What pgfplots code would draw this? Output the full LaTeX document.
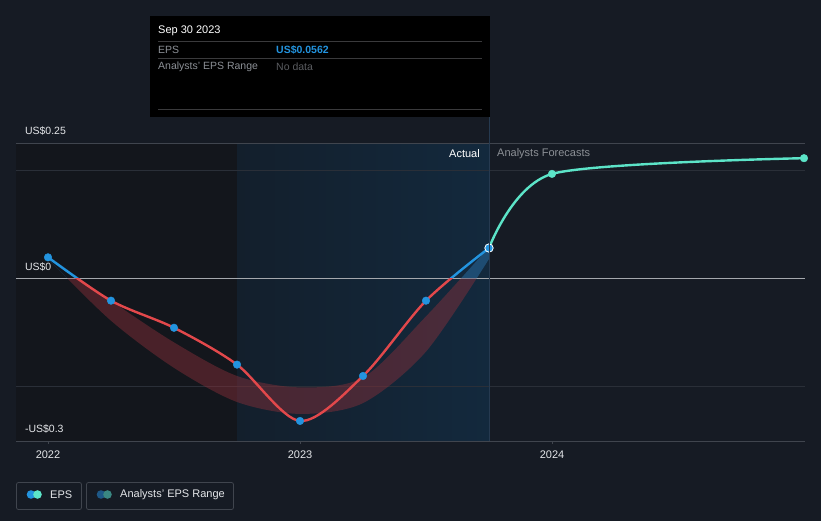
\documentclass[border=0pt]{standalone}
\usepackage{pgfplots}
\pgfplotsset{compat=1.18}
\usepgfplotslibrary{fillbetween}
\usepackage{fontspec}
\setmainfont{Liberation Sans}

\definecolor{bg}{RGB}{22,27,36}
\definecolor{pastbg}{RGB}{19,22,28}
\definecolor{actL}{RGB}{19,31,44}
\definecolor{actR}{RGB}{19,41,61}
\definecolor{gridc}{RGB}{42,47,56}
\definecolor{topgrid}{RGB}{64,69,78}
\definecolor{zeroc}{RGB}{165,168,173}
\definecolor{epsblue}{RGB}{35,148,223}
\definecolor{epsred}{RGB}{226,72,75}
\definecolor{fcst}{RGB}{92,228,200}
\definecolor{bandred}{RGB}{140,48,58}
\definecolor{bandblue}{RGB}{38,100,150}
\definecolor{txt}{RGB}{228,230,233}
\definecolor{muted}{RGB}{140,144,150}
\definecolor{nodata}{RGB}{90,92,96}
\definecolor{sep}{RGB}{58,58,60}
\definecolor{vline}{RGB}{38,58,80}
\definecolor{legA}{RGB}{30,88,135}
\definecolor{legB}{RGB}{58,135,130}

% quarterly EPS (actual)
\pgfplotstableread{
x y
2022.00 0.039
2022.25 -0.041
2022.50 -0.091
2022.75 -0.159
2023.00 -0.263
2023.25 -0.180
2023.50 -0.041
2023.75 0.0562
}\eps
% analysts' forecast
\pgfplotstableread{
x y
2023.75 0.0562
2024.00 0.193
2025.00 0.222
}\fcst
% analysts' EPS range (upper / lower)
\pgfplotstableread{
x up lo
2022.00 0.042 0.036
2022.25 -0.041 -0.078
2022.50 -0.118 -0.165
2022.75 -0.180 -0.228
2023.00 -0.201 -0.250
2023.25 -0.183 -0.230
2023.50 -0.070 -0.135
2023.75 0.058 0.036
}\band

\begin{document}
\begin{tikzpicture}
\begin{axis}[
    set layers,
    at={(0,0)}, anchor=south west,
    scale only axis, width=789pt, height=298pt,
    xmin=2021.873, xmax=2025.004, ymin=-0.3, ymax=0.25,
    axis line style={draw=none},
    xtick={2022,2023,2024}, xticklabels={2022,2023,2024},
    xtick pos=bottom, ytick pos=left,
    tick align=outside, major tick length=3pt,
    xtick style={draw=topgrid, line width=0.8pt},
    xticklabel style={font=\fontsize{11}{12}\selectfont, text=txt, yshift=-3.5pt},
    ytick={-0.3,0,0.25}, yticklabels={-US\$0.3,US\$0,US\$0.25},
    ytick style={draw=none},
    yticklabel style={font=\fontsize{10.5}{12}\selectfont, text=txt, anchor=south west, xshift=8.5pt, yshift=4pt},
]
\begin{pgfonlayer}{axis background}
\fill[bg] (rel axis cs:-0.03,-0.3) rectangle (rel axis cs:1.03,1.5);
\fill[pastbg] (axis cs:2021.873,-0.3) rectangle (axis cs:2022.75,0.25);
\shade[left color=actL, right color=actR] (axis cs:2022.75,-0.3) rectangle (axis cs:2023.75,0.25);
\draw[gridc, line width=0.8pt] (axis cs:2021.873,-0.2) -- (axis cs:2025.004,-0.2);
\draw[gridc, line width=0.8pt] (axis cs:2021.873,0.2) -- (axis cs:2025.004,0.2);
\draw[topgrid, line width=0.8pt] (axis cs:2021.873,0.25) -- (axis cs:2025.004,0.25);
\draw[topgrid, line width=0.9pt] (axis cs:2021.873,-0.3) -- (axis cs:2025.004,-0.3);
\draw[zeroc, line width=1.1pt] (axis cs:2021.873,0) -- (axis cs:2025.004,0);
\end{pgfonlayer}

% analysts' range band
\addplot[name path=up, draw=none, smooth, tension=0.5] table[x=x, y=up] {\band};
\addplot[name path=lo, draw=none, smooth, tension=0.5] table[x=x, y=lo] {\band};
\addplot[fill=bandred, fill opacity=0.45] fill between[of=up and lo,
    soft clip={(axis cs:2021.8,-0.35) rectangle (axis cs:2025.1,0)}];
\addplot[fill=bandblue, fill opacity=0.6] fill between[of=up and lo,
    soft clip={(axis cs:2021.8,0) rectangle (axis cs:2025.1,0.3)}];

% forecast
\addplot[fcst, line width=2.4pt, smooth, tension=0.45] table[x=x, y=y] {\fcst};
\addplot[only marks, mark=*, mark size=3.8pt, mark options={fill=fcst, draw=fcst}] table[x=x, y=y] {\fcst};

% EPS line, blue above zero and red below
\begin{scope}
\clip (axis cs:2021.8,0) rectangle (axis cs:2025.1,0.3);
\addplot[epsblue, line width=2.4pt, smooth, tension=0.5] table[x=x, y=y] {\eps};
\end{scope}
\begin{scope}
\clip (axis cs:2021.8,-0.35) rectangle (axis cs:2025.1,0);
\addplot[epsred, line width=2.4pt, smooth, tension=0.5] table[x=x, y=y] {\eps};
\end{scope}
\addplot[only marks, mark=*, mark size=3.8pt, mark options={fill=epsblue, draw=epsblue}] table[x=x, y=y] {\eps};
\addplot[only marks, mark=*, mark size=4.2pt, mark options={fill=epsblue, draw=white, line width=0.8pt}] coordinates {(2023.75,0.0562)};
\end{axis}

% overlay in image pixel coordinates (origin top left)
\begin{scope}[shift={(-16pt,441pt)}, x=1pt, y=-1pt, font=\fontsize{10.5}{12}\selectfont]
\draw[vline, line width=0.9pt] (489,16) -- (489,441);
\node[anchor=east, text=white, inner sep=0, font=\fontsize{11}{12}\selectfont] at (480,154) {Actual};
\node[anchor=west, text=muted, inner sep=0, font=\fontsize{11}{12}\selectfont] at (497,154) {Analysts Forecasts};

% tooltip
\fill[black] (150,16) rectangle (490,117);
\draw[sep, line width=0.8pt] (158,41) -- (482,41);
\draw[sep, line width=0.8pt] (158,58) -- (482,58);
\draw[sep, line width=0.8pt] (158,109) -- (482,109);
\node[anchor=west, text=white, inner sep=0, font=\fontsize{11}{12}\selectfont] at (158,31) {Sep 30 2023};
\node[anchor=west, text=muted, inner sep=0] at (158,49.5) {EPS};
\node[anchor=west, text=epsblue, inner sep=0] at (276,49.5) {\bfseries US\$0.0562};
\node[anchor=west, text=muted, inner sep=0] at (158,66.5) {Analysts' EPS Range};
\node[anchor=west, text=nodata, inner sep=0] at (276,66.5) {No data};

% legend
\draw[topgrid, line width=0.8pt, rounded corners=2pt] (16.5,482.5) rectangle (81.5,509.5);
\fill[epsblue] (31,494.5) circle (4.3);
\fill[fcst] (37.5,494.5) circle (4.3);
\node[anchor=west, text=txt, inner sep=0, font=\fontsize{11}{12}\selectfont] at (50,494.5) {EPS};
\draw[topgrid, line width=0.8pt, rounded corners=2pt] (86.5,482.5) rectangle (233.5,509.5);
\fill[legA] (101,494.5) circle (4.3);
\fill[legB] (107.5,494.5) circle (4.3);
\node[anchor=west, text=txt, inner sep=0, font=\fontsize{11}{12}\selectfont] at (120,494.5) {Analysts' EPS Range};
\end{scope}

\pgfresetboundingbox
\path[use as bounding box] (-16pt,-79pt) rectangle (805pt,441pt);
\end{tikzpicture}
\end{document}
